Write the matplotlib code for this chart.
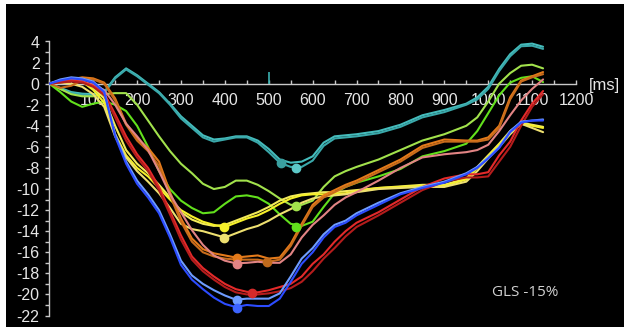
import matplotlib
matplotlib.use("Agg")
import matplotlib.pyplot as plt
from matplotlib.ticker import MultipleLocator, FixedLocator, FuncFormatter

plt.rcParams['axes.unicode_minus'] = False
plt.rcParams['font.family'] = ['Liberation Sans', 'DejaVu Sans']

# ---------------- data ----------------
t_ms = [0, 25, 50, 75, 100, 125, 150, 175, 200, 225, 250, 275, 300, 325, 350, 375,
        400, 425, 450, 475, 500, 525, 550, 575, 600, 625, 650, 675, 700, 750, 800,
        850, 900, 950, 975, 1000, 1025, 1050, 1075, 1100, 1125]

cyan_a = [0, -0.4, -0.8, -0.95, -1.0, -0.8, 0.6, 1.45, 0.8, 0.0, -0.8, -1.9, -3.1, -4.0, -4.9, -5.3,
          -5.2, -5.0, -5.0, -5.4, -6.2, -7.2, -7.5, -7.4, -6.9, -5.6, -5.0, -4.9, -4.8, -4.5, -3.9,
          -3.0, -2.5, -1.9, -1.3, -0.3, 1.4, 2.8, 3.7, 3.8, 3.5]
cyan_b = [0, -0.5, -0.9, -1.05, -1.1, -0.9, 0.5, 1.35, 0.7, -0.1, -0.9, -2.0, -3.3, -4.2, -5.1, -5.5,
          -5.3, -5.1, -5.1, -5.6, -6.5, -7.5, -7.9, -7.9, -7.3, -5.9, -5.2, -5.1, -5.0, -4.7, -4.1,
          -3.2, -2.7, -2.0, -1.5, -0.5, 1.2, 2.6, 3.55, 3.6, 3.3]
green_light = [0, -0.5, -1.0, -1.2, -1.2, -1.0, -0.9, -0.9, -2.0, -3.5, -5.0, -6.4, -7.6, -8.5, -9.5, -10.0,
               -9.8, -9.2, -9.2, -9.6, -10.2, -10.9, -11.5, -11.5, -11.1, -9.8, -8.8, -8.3, -7.9, -7.2, -6.3,
               -5.4, -4.8, -4.0, -3.2, -1.7, 0.0, 1.0, 1.7, 1.8, 1.45]
green_bright = [0, -0.8, -1.7, -2.2, -1.9, -1.7, -2.0, -2.6, -4.0, -6.0, -8.3, -10.0, -11.1, -11.8, -12.3, -12.2,
                -11.4, -10.7, -10.6, -10.8, -11.4, -12.4, -13.3, -13.5, -13.1, -11.7, -10.4, -9.8, -9.4, -8.8, -8.1,
                -6.9, -6.4, -5.7, -4.5, -2.8, -1.1, 0.1, 0.55, 0.7, 0.15]
yellow_a = [0, 0.2, 0.3, 0.2, -0.6, -1.8, -4.8, -6.8, -8.0, -8.8, -9.9, -11.0, -12.0, -12.6, -13.1, -13.4,
            -13.6, -13.2, -12.8, -12.5, -12.0, -11.4, -10.9, -10.6, -10.5, -10.5, -10.45, -10.4, -10.2, -9.9, -9.8,
            -9.7, -9.7, -9.1, -8.0, -6.9, -5.8, -4.6, -3.8, -4.0, -4.2]
yellow_b = [0, 0.1, 0.0, -0.3, -1.0, -2.2, -5.0, -7.0, -8.3, -9.3, -10.4, -11.8, -13.3, -13.8, -14.0, -14.3,
            -14.6, -14.2, -13.8, -13.5, -13.0, -12.4, -11.9, -11.3, -10.9, -10.7, -10.6, -10.5, -10.3, -10.0, -9.9,
            -9.8, -9.8, -9.3, -8.3, -7.1, -6.0, -4.8, -3.8, -4.2, -4.6]
yellow_c = [0, 0.3, 0.4, 0.2, -0.4, -1.4, -4.0, -6.3, -7.6, -8.5, -9.6, -10.8, -12.2, -12.9, -13.3, -13.5,
            -13.4, -13.0, -12.6, -12.2, -11.7, -11.1, -10.7, -10.5, -10.4, -10.3, -10.3, -10.2, -10.1, -9.9, -9.75,
            -9.6, -9.6, -9.0, -7.9, -6.8, -5.7, -4.5, -3.7, -3.9, -4.1]
orange_a = [0, 0.2, 0.4, 0.6, 0.5, 0.1, -1.4, -3.8, -5.2, -6.1, -7.4, -10.3, -12.8, -14.7, -15.7, -16.1,
            -16.3, -16.5, -16.4, -16.3, -16.6, -16.5, -15.2, -13.3, -11.5, -10.6, -10.1, -9.6, -9.2, -8.2, -7.2,
            -5.9, -5.3, -5.4, -5.4, -5.1, -4.0, -1.3, 0.3, 0.7, 1.1]
orange_b = [0, -0.4, -0.2, 0.3, 0.4, 0.0, -1.6, -3.9, -5.4, -6.4, -7.8, -10.6, -13.1, -15.0, -16.0, -16.4,
            -16.6, -16.7, -16.7, -16.7, -16.9, -16.7, -15.4, -13.5, -11.7, -10.8, -10.3, -9.8, -9.4, -8.4, -7.4,
            -6.1, -5.5, -5.5, -5.5, -5.3, -4.2, -1.5, 0.2, 0.6, 0.9]
pink = [0, 0.2, 0.3, 0.2, -0.1, -0.6, -2.0, -3.8, -5.0, -6.3, -8.3, -10.5, -12.2, -13.9, -15.3, -16.3,
        -16.8, -17.05, -17.0, -16.9, -17.0, -17.0, -16.2, -14.6, -13.4, -12.5, -11.5, -10.8, -10.3, -9.2, -8.0,
        -7.0, -6.7, -6.5, -6.3, -5.8, -4.5, -3.0, -1.6, -0.5, 0.4]
red_a = [0, 0.2, 0.3, 0.2, -0.2, -0.9, -2.9, -5.0, -6.7, -8.0, -9.8, -12.1, -14.4, -16.4, -17.5, -18.3,
         -19.0, -19.5, -19.75, -19.8, -19.6, -19.3, -19.0, -18.3, -17.1, -16.2, -15.0, -14.0, -13.2, -12.2, -11.0,
         -9.8, -9.0, -8.6, -8.6, -8.4, -6.8, -5.5, -3.5, -1.9, -0.7]
red_b = [0, 0.1, 0.2, 0.1, -0.3, -1.1, -3.2, -5.4, -7.0, -8.3, -10.1, -12.4, -14.8, -16.7, -17.8, -18.6,
         -19.3, -19.8, -20.0, -20.0, -19.9, -19.7, -19.4, -18.8, -17.8, -16.6, -15.6, -14.5, -13.6, -12.5, -11.3,
         -10.1, -9.3, -8.9, -8.9, -8.8, -7.4, -6.0, -4.0, -2.2, -1.0]
blue_light = [0, 0.4, 0.6, 0.5, 0.2, -0.7, -4.8, -7.4, -9.2, -10.5, -12.0, -14.3, -16.8, -18.2, -19.0, -19.6,
              -20.1, -20.5, -20.4, -20.4, -20.4, -19.9, -18.3, -16.6, -15.6, -14.3, -13.4, -13.0, -12.3, -11.3, -10.4,
              -9.8, -9.3, -8.5, -7.9, -7.0, -6.0, -4.5, -3.6, -3.5, -3.4]
blue = [0, 0.3, 0.5, 0.4, 0.1, -0.8, -5.0, -7.6, -9.5, -10.8, -12.3, -14.6, -17.2, -18.6, -19.5, -20.3,
        -20.9, -21.2, -21.0, -21.1, -21.1, -20.4, -18.8, -17.1, -16.0, -14.6, -13.6, -13.2, -12.5, -11.5, -10.5,
        -9.9, -9.4, -8.6, -8.0, -7.1, -6.1, -4.6, -3.7, -3.5, -3.5]

# peak markers (time ms, strain %)
peak_t = [529, 561, 562, 562, 397, 397, 428, 495, 428, 462, 428, 428]
peak_v = [-7.5, -8.0, -11.6, -13.6, -13.6, -14.65, -16.5, -16.9, -17.07, -19.86, -20.55, -21.25]

y_ticks = [4, 2, 0, -2, -4, -6, -8, -10, -12, -14, -16, -18, -20, -22]
x_ticks = [100, 200, 300, 400, 500, 600, 700, 800, 900, 1000, 1100, 1200]
avc_ms = 500
gls_text = "GLS -15%"

# ---------------- styling ----------------
series = [
    (cyan_a, '#45bcbc'), (cyan_b, '#3aa8aa'),
    (green_light, '#a2e24c'), (green_bright, '#62e01c'),
    (yellow_c, '#f2ea5a'), (yellow_a, '#f6f02a'), (yellow_b, '#eee070'),
    (orange_a, '#e47a1a'), (orange_b, '#c86c1c'),
    (pink, '#e28484'),
    (red_a, '#e42a2a'), (red_b, '#b41c1c'),
    (blue_light, '#6e9cff'), (blue, '#2c4cff'),
]
peak_colors = ['#3aa0a0', '#5cc8c8', '#a2e24c', '#62e01c', '#f6f02a', '#eee070',
               '#e47a1a', '#c06a1c', '#e28484', '#d42a2a', '#6e9cff', '#3c64ff']

W, H = 624, 327
fig = plt.figure(figsize=(W / 100, H / 100), dpi=100, facecolor='white')

bg = fig.add_axes([6 / W, 0, (W - 6) / W, (H - 4) / H])
bg.set_facecolor('black')
bg.set_xticks([]); bg.set_yticks([])
for s in bg.spines.values():
    s.set_visible(False)

x0, x1 = 49.3, 576.0
ytop, ybot = 41.5, 315.5
ax = fig.add_axes([x0 / W, (H - ybot) / H, (x1 - x0) / W, (ybot - ytop) / H])
ax.patch.set_alpha(0)
ax.set_xlim(0, 1200)
ax.set_ylim(-22, 4)

spine_col = '#c8c8c8'
for side in ['top', 'right']:
    ax.spines[side].set_visible(False)
ax.spines['bottom'].set_position(('data', 0))
ax.spines['bottom'].set_color(spine_col)
ax.spines['left'].set_color(spine_col)
ax.spines['bottom'].set_linewidth(1.0)
ax.spines['left'].set_linewidth(1.0)

ax.xaxis.set_major_locator(FixedLocator(x_ticks))
ax.xaxis.set_minor_locator(MultipleLocator(50))
ax.yaxis.set_major_locator(FixedLocator(y_ticks))
ax.yaxis.set_minor_locator(MultipleLocator(1))
ax.xaxis.set_major_formatter(FuncFormatter(lambda v, p: f"{int(v)}"))
ax.yaxis.set_major_formatter(FuncFormatter(lambda v, p: f"{int(round(v))}"))

ax.tick_params(axis='x', which='both', direction='in', length=3, width=1,
               color=spine_col, labelcolor='#e6e6e6', labelsize=11.5, pad=7)
ax.tick_params(axis='y', which='both', direction='out', length=3, width=1,
               color=spine_col, labelcolor='#e6e6e6', labelsize=11.5, pad=4)

for vals, col in series:
    ax.plot(t_ms, vals, color=col, lw=1.5, solid_capstyle='round',
            solid_joinstyle='round', zorder=3)

ax.vlines(avc_ms, 0, 1.15, color='#3ab0b0', lw=1.2, zorder=4)

for tt, vv, cc in zip(peak_t, peak_v, peak_colors):
    ax.plot([tt], [vv], 'o', color=cc, markersize=6, zorder=5)

ax.text(1230, -0.15, "[ms]", color='#e6e6e6', fontsize=12,
        ha='left', va='center', transform=ax.transData, clip_on=False)

fig.text(492 / W, 1 - 292.5 / H, gls_text, color='#d0d0d0', fontsize=11,
         family='Open Sans', ha='left', va='center')

fig.savefig('out.png', dpi=100, facecolor=fig.get_facecolor())
